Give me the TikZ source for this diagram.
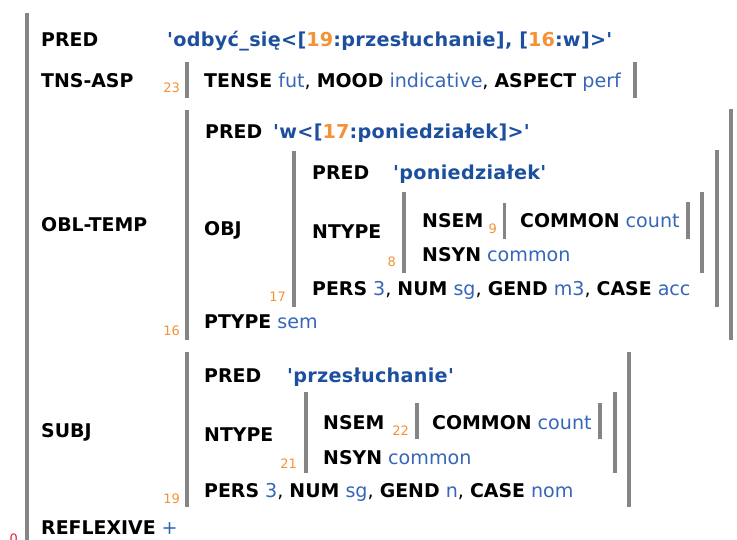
\documentclass[tikz,border=0pt]{standalone}
\usepackage{fontspec}
\newfontfamily\vf{DejaVu Sans}
\newfontfamily\vfp{DejaVu Sans}[LetterSpace=1.5]
\definecolor{pblue}{HTML}{1C4F9E}
\definecolor{vblue}{HTML}{3566B8}
\definecolor{onum}{HTML}{F39236}
\definecolor{barg}{HTML}{858585}
\definecolor{rnum}{HTML}{E8203A}
\newcommand{\A}[1]{{\bfseries\fontsize{18.9}{21}\selectfont #1}}
\newcommand{\V}[1]{\textcolor{vblue}{#1}}
\newcommand{\N}[1]{\textcolor{onum}{#1}}
\tikzset{
  txt/.style={anchor=base west,inner sep=0pt,font=\vf\fontsize{19.1}{21}\selectfont},
  attr/.style={txt,font=\vf\bfseries\fontsize{18.9}{21}\selectfont},
  pval/.style={txt,font=\vfp\bfseries\fontsize{19.2}{21}\selectfont,text=pblue},
  num/.style={anchor=base east,inner sep=0pt,font=\vf\fontsize{13}{14}\selectfont,text=onum},
  fbar/.style={draw=barg,line width=3.6pt}
}
\begin{document}
\begin{tikzpicture}[x=1pt,y=-1pt]
\useasboundingbox (0,0) rectangle (737,540);
% bars
\draw[fbar] (27,13) -- (27,548);
\draw[fbar] (187,62) -- (187,98);  \draw[fbar] (635,62) -- (635,98);
\draw[fbar] (187,110) -- (187,340); \draw[fbar] (731,109) -- (731,340);
\draw[fbar] (294,151) -- (294,307); \draw[fbar] (717,150) -- (717,307);
\draw[fbar] (404,192) -- (404,273); \draw[fbar] (702,192) -- (702,273);
\draw[fbar] (504.5,203) -- (504.5,239); \draw[fbar] (688,202) -- (688,239);
\draw[fbar] (187,352) -- (187,507); \draw[fbar] (629,352) -- (629,507);
\draw[fbar] (306,392) -- (306,473); \draw[fbar] (615,392) -- (615,473);
\draw[fbar] (417,403) -- (417,439); \draw[fbar] (600,403) -- (600,439);
% main level
\node[attr] (pred) at (41,47) {PRED};
\node[pval] (predv) at (167,47) {'odbyć\_się<[\N{19}:przesłuchanie], [\N{16}:w]>'};
\node[attr] (tns) at (41,88) {TNS-ASP};
\node[num] (n23) at (180,93) {23};
\node[txt] (tnsv) at (204,88) {\A{TENSE} \V{fut}, \A{MOOD} \V{indicative}, \A{ASPECT} \V{perf}};
\node[attr] (obl) at (41,232) {OBL-TEMP};
\node[attr] (subj) at (41,437) {SUBJ};
\node[txt] (refl) at (41,534) {\A{REFLEXIVE} \V{+}};
\node[anchor=base east,inner sep=0pt,font=\vf\fontsize{13}{14}\selectfont,text=rnum] (n0) at (18,543) {0};
% OBL-TEMP
\node[attr] (opred) at (205,139) {PRED};
\node[pval] (opredv) at (273,139) {'w<[\N{17}:poniedziałek]>'};
\node[attr] (obj) at (204,236) {OBJ};
\node[attr] (jpred) at (312,180) {PRED};
\node[pval] (jpredv) at (393,180) {'poniedziałek'};
\node[attr] (jnt) at (312,239) {NTYPE};
\node[attr] (jnsem) at (422,228) {NSEM};
\node[num] (n9) at (497,234) {9};
\node[txt] (jcom) at (520,228) {\A{COMMON} \V{count}};
\node[txt] (jnsyn) at (422,262) {\A{NSYN} \V{common}};
\node[num] (n8) at (396,267) {8};
\node[txt] (jpers) at (312,296) {\A{PERS} \V{3}, \A{NUM} \V{sg}, \A{GEND} \V{m3}, \A{CASE} \V{acc}};
\node[num] (n17) at (286,302) {17};
\node[txt] (ptype) at (204,329) {\A{PTYPE} \V{sem}};
\node[num] (n16) at (180,335) {16};
% SUBJ
\node[attr] (spred) at (204,382) {PRED};
\node[pval] (spredv) at (287,382) {'przesłuchanie'};
\node[attr] (snt) at (204,441) {NTYPE};
\node[attr] (snsem) at (323,429) {NSEM};
\node[num] (n22) at (409,435) {22};
\node[txt] (scom) at (432,429) {\A{COMMON} \V{count}};
\node[txt] (snsyn) at (323,464) {\A{NSYN} \V{common}};
\node[num] (n21) at (297,468) {21};
\node[txt] (spers) at (204,497) {\A{PERS} \V{3}, \A{NUM} \V{sg}, \A{GEND} \V{n}, \A{CASE} \V{nom}};
\node[num] (n19) at (180,503) {19};
\end{tikzpicture}
\end{document}
